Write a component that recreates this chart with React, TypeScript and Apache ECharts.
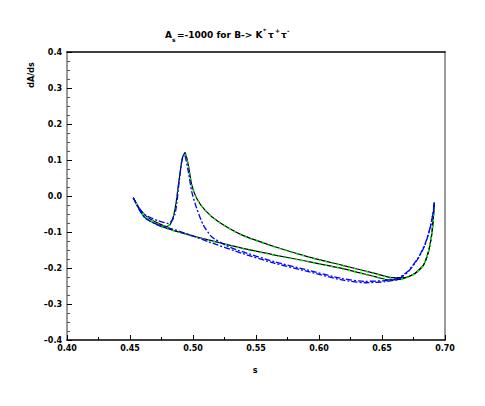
import React, { useEffect, useRef } from "react";
import * as echarts from "echarts";

const xTicks = [0.4, 0.45, 0.5, 0.55, 0.6, 0.65, 0.7];
const yTicks = [-0.4, -0.3, -0.2, -0.1, 0.0, 0.1, 0.2, 0.3, 0.4];

const blackUpperS = [0.4526, 0.457, 0.4619, 0.467, 0.4725, 0.4765, 0.4791, 0.482, 0.4844, 0.4865, 0.4884, 0.49, 0.4915, 0.4937, 0.4963, 0.499, 0.5029, 0.5095, 0.52, 0.5387, 0.565, 0.5915, 0.618, 0.6444, 0.6577, 0.668, 0.676, 0.6828, 0.6868, 0.6894, 0.6907, 0.6915];
const blackUpperV = [-0.005, -0.032, -0.053, -0.066, -0.076, -0.082, -0.085, -0.078, -0.057, -0.02, 0.031, 0.07, 0.105, 0.121, 0.086, 0.031, -0.006, -0.039, -0.071, -0.108, -0.141, -0.169, -0.192, -0.215, -0.227, -0.227, -0.215, -0.192, -0.155, -0.108, -0.062, -0.02];
const blackLowerS = [0.4526, 0.457, 0.4619, 0.4725, 0.4831, 0.499, 0.5122, 0.5387, 0.565, 0.5915, 0.618, 0.6444, 0.655, 0.6656, 0.676, 0.6828, 0.6868, 0.6894, 0.6907, 0.6915];
const blackLowerV = [-0.005, -0.035, -0.06, -0.081, -0.094, -0.11, -0.122, -0.145, -0.164, -0.182, -0.201, -0.224, -0.233, -0.231, -0.216, -0.193, -0.156, -0.109, -0.063, -0.02];

const greenUpperS = [0.4526, 0.457, 0.4619, 0.467, 0.4725, 0.4765, 0.4791, 0.482, 0.4844, 0.4865, 0.4884, 0.49, 0.4915, 0.4937, 0.4963, 0.499, 0.5029, 0.5095, 0.52, 0.5387, 0.565, 0.5915, 0.618, 0.6444, 0.6577, 0.668, 0.676, 0.6828, 0.6868, 0.6894, 0.6907, 0.6915];
const greenUpperV = [-0.005, -0.033, -0.054, -0.067, -0.077, -0.083, -0.086, -0.079, -0.058, -0.021, 0.03, 0.069, 0.104, 0.12, 0.085, 0.03, -0.007, -0.04, -0.072, -0.109, -0.142, -0.17, -0.193, -0.216, -0.228, -0.228, -0.216, -0.193, -0.156, -0.109, -0.063, -0.021];
const greenLowerS = [0.4526, 0.457, 0.4619, 0.4725, 0.4831, 0.499, 0.5122, 0.5387, 0.565, 0.5915, 0.618, 0.6444, 0.655, 0.6656, 0.676, 0.6828, 0.6868, 0.6894, 0.6907, 0.6915];
const greenLowerV = [-0.005, -0.036, -0.061, -0.082, -0.095, -0.111, -0.123, -0.146, -0.165, -0.183, -0.202, -0.225, -0.234, -0.232, -0.217, -0.194, -0.157, -0.11, -0.064, -0.021];

const blueUpperS = [0.4526, 0.457, 0.4619, 0.4725, 0.4804, 0.4835, 0.4857, 0.4872, 0.4884, 0.491, 0.4931, 0.4958, 0.499, 0.5029, 0.5082, 0.5148, 0.5254, 0.536, 0.565, 0.5915, 0.618, 0.6365, 0.6524, 0.663, 0.6709, 0.6788, 0.6841, 0.6881, 0.6907, 0.6915];
const blueUpperV = [-0.005, -0.033, -0.052, -0.069, -0.076, -0.068, -0.05, -0.02, 0.021, 0.095, 0.116, 0.077, 0.012, -0.034, -0.081, -0.113, -0.136, -0.151, -0.183, -0.206, -0.229, -0.237, -0.235, -0.228, -0.208, -0.171, -0.134, -0.089, -0.043, -0.017];
const blueLowerS = [0.4526, 0.457, 0.4619, 0.4725, 0.4831, 0.499, 0.5122, 0.5387, 0.565, 0.5915, 0.618, 0.6365, 0.6524, 0.663, 0.6709, 0.6788, 0.6841, 0.6881, 0.6907, 0.6915];
const blueLowerV = [-0.005, -0.036, -0.061, -0.081, -0.091, -0.11, -0.127, -0.159, -0.187, -0.21, -0.233, -0.241, -0.238, -0.231, -0.21, -0.173, -0.136, -0.09, -0.044, -0.017];

const zip = (s: number[], v: number[]) => s.map((x, i) => [x, v[i]]);

const FONT = "DejaVu Sans";

export default function App() {
  const ref = useRef<HTMLDivElement>(null);
  useEffect(() => {
    if (!ref.current) return;
    const chart = echarts.init(ref.current, undefined, { renderer: "svg" });
    const fmtY = (v: number) => {
      const t = Math.abs(v) < 1e-9 ? "0.0" : v.toFixed(1);
      return t.replace("-", "\u2013");
    };
    const mk = (name: string, data: number[][], color: string, type: any, width: number, z: number) => ({
      type: "line",
      name,
      data,
      showSymbol: false,
      symbol: "none",
      smooth: 0.2,
      lineStyle: { color, width, type },
      z,
    });
    const txt = (x: number, y: number, text: string, size: number) => ({
      type: "text",
      x,
      y,
      style: { text, fontFamily: FONT, fontWeight: "bold", fontSize: size, fill: "#000" },
    });
    chart.setOption({
      animation: false,
      backgroundColor: "#fff",
      grid: { left: 67, right: 40, top: 52, bottom: 66, show: false },
      xAxis: [
        {
          type: "value",
          min: 0.4,
          max: 0.7,
          interval: 0.05,
          axisLine: { show: true, onZero: false, lineStyle: { color: "#000", width: 1.5 } },
          axisTick: { show: true, inside: true, length: 5, lineStyle: { color: "#000" } },
          minorTick: { show: true, splitNumber: 2, length: 3, lineStyle: { color: "#000" } },
          splitLine: { show: false },
          axisLabel: {
            margin: 4,
            fontFamily: FONT,
            fontWeight: "bold",
            fontSize: 8,
            color: "#000",
            formatter: (v: number) => v.toFixed(2),
          },
        },
        {
          type: "value",
          position: "top",
          min: 0.4,
          max: 0.7,
          interval: 0.05,
          axisLine: { show: true, onZero: false, lineStyle: { color: "#000", width: 1.5 } },
          axisTick: { show: false },
          axisLabel: { show: false },
          splitLine: { show: false },
        },
      ],
      yAxis: [
        {
          type: "value",
          min: -0.4,
          max: 0.4,
          interval: 0.1,
          axisLine: { show: true, onZero: false, lineStyle: { color: "#777", width: 1.5 } },
          axisTick: { show: true, inside: true, length: 5, lineStyle: { color: "#000" } },
          minorTick: { show: true, splitNumber: 4, length: 3, lineStyle: { color: "#555" } },
          splitLine: { show: false },
          axisLabel: {
            margin: 5,
            fontFamily: FONT,
            fontWeight: "bold",
            fontSize: 8,
            color: "#000",
            formatter: fmtY,
          },
        },
        {
          type: "value",
          position: "right",
          min: -0.4,
          max: 0.4,
          interval: 0.1,
          axisLine: { show: true, onZero: false, lineStyle: { color: "#999", width: 2 } },
          axisTick: { show: false },
          axisLabel: { show: false },
          splitLine: { show: false },
        },
      ],
      series: [
        mk("blackUpper", zip(blackUpperS, blackUpperV), "#000", "solid", 1.2, 2),
        mk("blackLower", zip(blackLowerS, blackLowerV), "#000", "solid", 1.2, 2),
        mk("greenUpper", zip(greenUpperS, greenUpperV), "#00ff00", [2, 4], 1.4, 3),
        mk("greenLower", zip(greenLowerS, greenLowerV), "#00ff00", [2, 4], 1.4, 3),
        mk("blueUpper", zip(blueUpperS, blueUpperV), "#0000ff", [6, 2, 2, 2], 1.3, 4),
        mk("blueLower", zip(blueLowerS, blueLowerV), "#0000ff", [6, 2, 2, 2], 1.3, 4),
      ],
      graphic: [
        txt(165, 30, "A", 9),
        txt(172, 36, "s", 6),
        txt(177, 30, "=-1000 for B-> K", 9),
        txt(263, 27, "*", 6),
        txt(268, 30, "\u03c4", 9),
        txt(275, 27, "+", 6),
        txt(281, 30, "\u03c4", 9),
        txt(287, 27, "-", 6),
        {
          type: "text",
          x: 31,
          y: 75,
          rotation: Math.PI / 2,
          style: {
            text: "dA/ds",
            fontFamily: FONT,
            fontWeight: "bold",
            fontSize: 8,
            fill: "#000",
            align: "center",
            verticalAlign: "middle",
          },
        },
        {
          type: "text",
          x: 255,
          y: 370,
          style: {
            text: "s",
            fontFamily: FONT,
            fontWeight: "bold",
            fontSize: 8,
            fill: "#000",
            align: "center",
            verticalAlign: "middle",
          },
        },
      ],
    });
    return () => chart.dispose();
  }, []);
  return <div ref={ref} style={{ width: 485, height: 406, position: "absolute", left: 0, top: 0 }} />;
}
